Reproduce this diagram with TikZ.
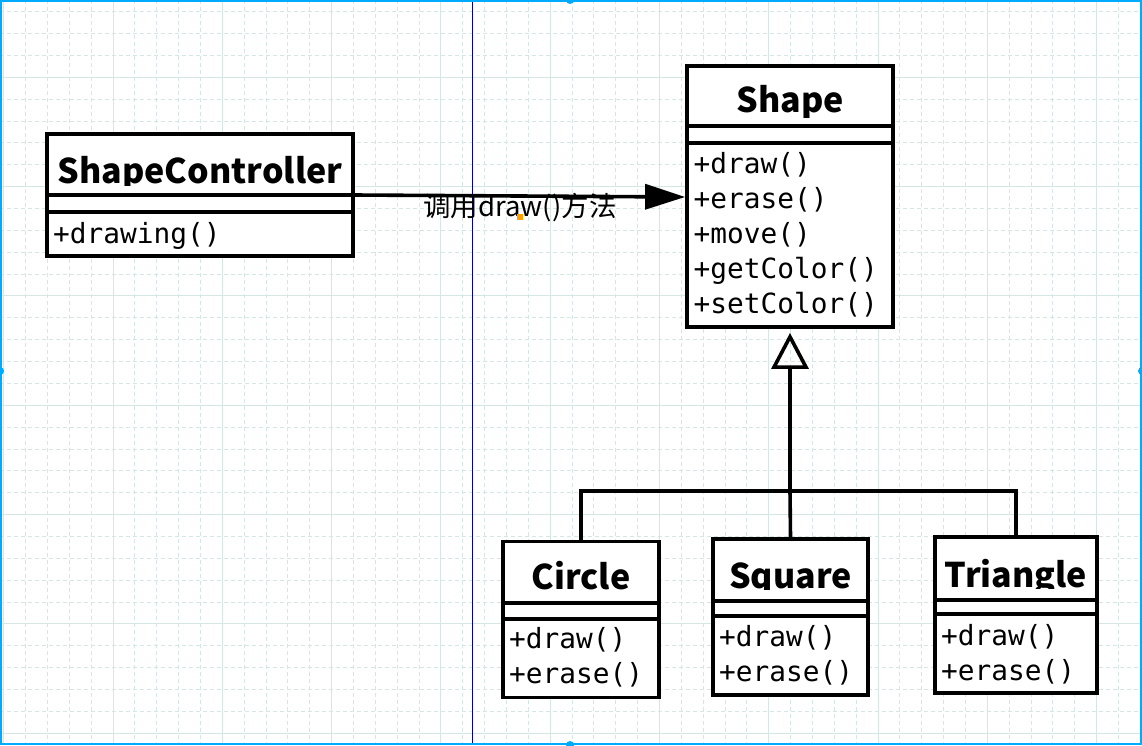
\documentclass[tikz,border=0pt]{standalone}
\usepackage{fontspec}
\newfontfamily\cjk{Noto Sans CJK SC}
\setmonofont{DejaVu Sans Mono}
\usetikzlibrary{arrows.meta}

\definecolor{gridline}{RGB}{214,230,228}
\definecolor{frameblue}{RGB}{0,170,255}
\definecolor{guideblue}{RGB}{0,0,170}
\definecolor{handleorange}{RGB}{255,160,0}

\tikzset{
  classbox/.style={draw, fill=white, line width=3.8pt, inner sep=0pt},
  classname/.style={font=\cjk\bfseries\fontsize{34}{38}\selectfont, inner sep=0pt, anchor=base},
  methods/.style={font=\ttfamily\fontsize{27.8}{34.9}\selectfont, inner sep=0pt, anchor=base west, align=left},
  link/.style={line width=3.6pt},
  calltext/.style={font=\cjk\fontsize{27.5}{30}\selectfont, inner sep=0pt},
}

\begin{document}
\begin{tikzpicture}[x=1pt,y=-1pt]
		% Canvas and grid
		\useasboundingbox (0,0) rectangle (1142,745);
		\fill[white] (0,0) rectangle (1142,745);
		\foreach \i in {0,...,52}
			\draw[gridline, line width=1pt, dash pattern=on 4pt off 3pt] (3.7+21.86*\i,0) -- (3.7+21.86*\i,745);
		\foreach \j in {0,...,33}
			\draw[gridline, line width=1pt, dash pattern=on 4pt off 3pt] (0,11.8+21.86*\j) -- (1142,11.8+21.86*\j);
		\foreach \i in {0,5,...,50}
			\draw[gridline, line width=1pt] (3.7+21.86*\i,0) -- (3.7+21.86*\i,745);
		\foreach \j in {3,8,...,33}
			\draw[gridline, line width=1pt] (0,11.8+21.86*\j) -- (1142,11.8+21.86*\j);
		\draw[guideblue, line width=1pt] (472,0) -- (472,745);

		% Define classes
		\node[classbox, minimum width=306pt, minimum height=122pt] (ctrl) at (200,195) {};
		\node[classbox, minimum width=206pt, minimum height=261pt] (shape) at (790,196.5) {};
		\node[classbox, minimum width=156pt, minimum height=156pt] (circle) at (581,619.5) {};
		\node[classbox, minimum width=155pt, minimum height=156pt] (square) at (790.5,617) {};
		\node[classbox, minimum width=162pt, minimum height=156pt] (triangle) at (1016,615) {};

		% Compartments
		\foreach \n/\a/\b in {ctrl/195/212, shape/126/143, circle/603/619, square/601/616, triangle/600/614} {
			\draw[link] (\n.west |- 0,\a) -- (\n.east |- 0,\a);
			\draw[link] (\n.west |- 0,\b) -- (\n.east |- 0,\b);
		}

		% Class names
		\foreach \n/\t/\y/\c in {ctrl/ShapeController/183/185, shape/Shape/112.5/117, circle/Circle/589.5/595, square/Square/588/589, triangle/Triangle/587/588} {
			\begin{scope}
				\clip (\n.north west) rectangle (\n.east |- 0,\c);
				\node[classname] (\n-name) at (\n.center |- 0,\y) {\t};
			\end{scope}
		}

		% Operations (placed by the baseline of their last line)
		\node[methods] (ctrl-ops) at (53,243) {+drawing()};
		\node[methods] (shape-ops) at (693.5,313) {+draw()\\+erase()\\+move()\\+getColor()\\+setColor()};
		\node[methods] (circle-ops) at (509,683) {+draw()\\+erase()};
		\node[methods] (square-ops) at (719,681) {+draw()\\+erase()};
		\node[methods] (triangle-ops) at (941,680) {+draw()\\+erase()};

		% Connect the classes
		\draw[link, -{Triangle[length=40pt, width=25pt]}] (ctrl.east |- 0,195) -- (shape.west |- 0,197)
			node[calltext, midway, anchor=base, yshift=-20pt] (call) {调用draw()方法};
		\fill[handleorange] (517,214) rectangle (523,220);

		\coordinate (fork) at (shape.south |- 0,491);
		\draw[link] (circle.north) |- (fork) -| (triangle.north);
		\draw[link] (square.north) -- (fork);
		\draw[link, -{Triangle[open, length=36pt, width=37pt]}] (fork) -- ([yshift=-4pt]shape.south);

		% Selection frame
		\draw[frameblue, line width=2pt] (1,1) rectangle (1141,744);
		\foreach \p in {(0,371), (570,0), (570,745), (1142,371)}
			\fill[frameblue] \p circle (4pt);
	\end{tikzpicture}
\end{document}
